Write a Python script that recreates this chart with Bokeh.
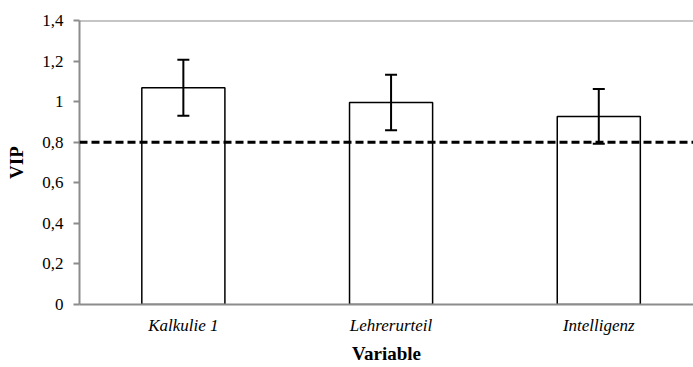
from bokeh.plotting import figure
from bokeh.models import ColumnDataSource, Whisker, Span, FixedTicker, Range1d
from bokeh.embed import file_html
from bokeh.resources import INLINE

categories = ["Kalkulie 1", "Lehrerurteil", "Intelligenz"]
vip = [1.068, 0.996, 0.927]
err = [0.138, 0.137, 0.135]
threshold = 0.8
y_ticks = [0, 0.2, 0.4, 0.6, 0.8, 1.0, 1.2, 1.4]
y_tick_labels = ["0", "0,2", "0,4", "0,6", "0,8", "1", "1,2", "1,4"]

xpos = [i + 0.5 for i in range(len(categories))]
src = ColumnDataSource(dict(
    x=xpos, top=vip,
    upper=[v + e for v, e in zip(vip, err)],
    lower=[v - e for v, e in zip(vip, err)],
))

FONT = "Liberation Serif"
p = figure(width=693, height=367, output_backend="svg", toolbar_location=None,
           x_range=Range1d(0, 2.956), y_range=Range1d(0, 1.4),
           min_border_left=79, min_border_right=0, min_border_top=20, min_border_bottom=63)
p.outline_line_color = None
p.xgrid.grid_line_color = None
p.ygrid.grid_line_color = None

p.vbar(x="x", top="top", width=0.4, source=src, fill_color="white",
       line_color="black", line_width=1.5)

w = Whisker(base="x", upper="upper", lower="lower", source=src,
            line_color="black", line_width=2, level="overlay")
w.upper_head.size = 12
w.lower_head.size = 12
w.upper_head.line_width = 2
w.lower_head.line_width = 2
p.add_layout(w)

p.add_layout(Span(location=threshold, dimension="width", line_color="black",
                  line_width=3, line_dash="8 4", level="overlay"))
p.add_layout(Span(location=1.4, dimension="width", line_color="#8c8c8c",
                  line_width=2))

p.yaxis.ticker = FixedTicker(ticks=y_ticks)
p.yaxis.major_label_overrides = {t: l for t, l in zip(y_ticks, y_tick_labels)}
p.xaxis.ticker = FixedTicker(ticks=xpos)
p.xaxis.major_label_overrides = {x: c for x, c in zip(xpos, categories)}

for ax in (p.xaxis[0], p.yaxis[0]):
    ax.axis_line_color = "#8c8c8c"
    ax.axis_line_width = 2
    ax.major_tick_line_color = "#8c8c8c"
    ax.major_tick_line_width = 2
    ax.minor_tick_line_color = None
    ax.major_label_text_font = FONT
    ax.major_label_text_color = "black"
    ax.major_label_text_font_size = "17px"
    ax.axis_label_text_font = FONT
    ax.axis_label_text_font_style = "bold"
    ax.axis_label_text_font_size = "19px"
    ax.axis_label_text_color = "black"

p.yaxis.major_tick_out = 6
p.yaxis.major_tick_in = 0
p.yaxis.major_label_standoff = 10
p.yaxis.axis_label = "VIP"
p.yaxis.axis_label_standoff = 12

p.xaxis.major_tick_out = 0
p.xaxis.major_tick_in = 0
p.xaxis.major_label_standoff = 11
p.xaxis.major_label_text_font_style = "italic"
p.xaxis.axis_label = "Variable"
p.xaxis.axis_label_standoff = 5

open("out.html", "w").write(file_html(p, INLINE))
